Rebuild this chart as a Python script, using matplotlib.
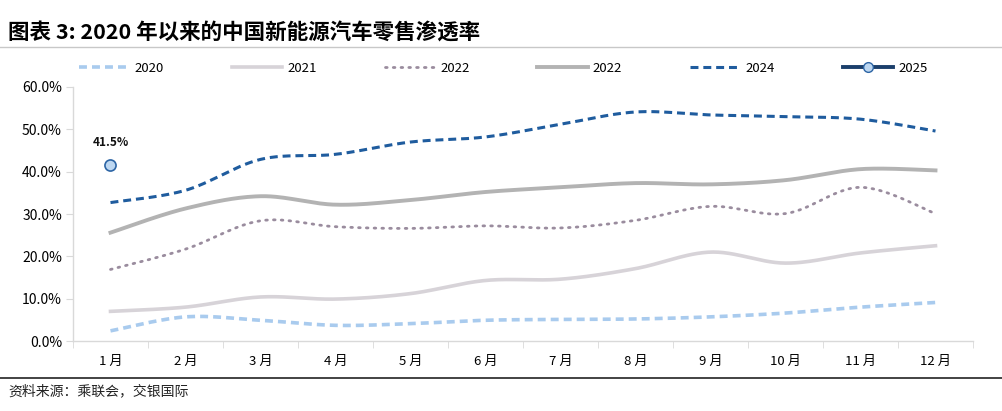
import numpy as np
import matplotlib
matplotlib.use('Agg')
import matplotlib.pyplot as plt
from matplotlib.lines import Line2D

plt.rcParams['font.family'] = ['Noto Sans CJK SC', 'DejaVu Sans']

months = ['1 月', '2 月', '3 月', '4 月', '5 月', '6 月', '7 月', '8 月', '9 月', '10 月', '11 月', '12 月']
y2020 = [2.4, 5.7, 4.9, 3.7, 4.1, 4.9, 5.1, 5.2, 5.7, 6.6, 8.0, 9.1]
y2021 = [7.0, 8.0, 10.4, 9.9, 11.2, 14.3, 14.6, 17.1, 21.0, 18.4, 20.8, 22.5]
y2022 = [16.9, 21.7, 28.4, 27.0, 26.6, 27.2, 26.7, 28.5, 31.8, 30.1, 36.3, 30.1]
y2023 = [25.6, 31.3, 34.2, 32.2, 33.3, 35.2, 36.3, 37.3, 37.0, 38.0, 40.6, 40.3]
y2024 = [32.7, 35.6, 42.9, 44.1, 47.0, 48.2, 51.2, 54.1, 53.4, 53.0, 52.4, 49.6]
y2025 = [41.5]
legend_labels = ['2020', '2021', '2022', '2022', '2024', '2025']


def smooth(y, n=30):
    # Excel-style smoothed line (Catmull-Rom through the points)
    y = np.asarray(y, dtype=float)
    x = np.arange(len(y), dtype=float)
    if len(y) < 3:
        return x, y
    px = np.concatenate([[x[0]], x, [x[-1]]])
    py = np.concatenate([[y[0]], y, [y[-1]]])
    xs, ys = [], []
    t = np.linspace(0, 1, n)
    for i in range(1, len(px) - 2):
        p0, p1, p2, p3 = px[i-1], px[i], px[i+1], px[i+2]
        q0, q1, q2, q3 = py[i-1], py[i], py[i+1], py[i+2]
        c1x, c1y = p1 + (p2 - p0) / 6, q1 + (q2 - q0) / 6
        c2x, c2y = p2 - (p3 - p1) / 6, q2 - (q3 - q1) / 6
        bx = (1-t)**3*p1 + 3*(1-t)**2*t*c1x + 3*(1-t)*t**2*c2x + t**3*p2
        by = (1-t)**3*q1 + 3*(1-t)**2*t*c1y + 3*(1-t)*t**2*c2y + t**3*q2
        xs.append(bx)
        ys.append(by)
    return np.concatenate(xs), np.concatenate(ys)


fig = plt.figure(figsize=(10.03, 4.11), dpi=100)
ax = fig.add_axes([73/1003, 70/411, 900/1003, 254/411])

styles = [
    (y2020, dict(color='#A9CBEE', lw=2.6, ls=(0, (2.2, 1.4)))),
    (y2021, dict(color='#D7D3D8', lw=2.6, ls='-')),
    (y2022, dict(color='#9A8C9E', lw=2.0, ls=(0, (0.6, 2.2)), dash_capstyle='round')),
    (y2023, dict(color='#B3B3B3', lw=2.8, ls='-')),
    (y2024, dict(color='#1F5C9E', lw=2.2, ls=(0, (2.6, 1.6)))),
]
for data, st in styles:
    sx, sy = smooth(data)
    ax.plot(sx, sy, **st)

ax.plot(range(len(y2025)), y2025, color='#1B3F6B', lw=2.8, marker='o', ms=8,
        markerfacecolor='#BDD7F1', markeredgecolor='#2D65A5', markeredgewidth=1.2, zorder=5)
ax.annotate(f'{y2025[0]:.1f}%', (0, y2025[0]), xytext=(0, 12), textcoords='offset points',
            ha='center', va='bottom', fontsize=8.5, fontweight='bold', color='#111111')

ax.set_xlim(-0.5, 11.5)
ax.set_ylim(0, 60)
ax.set_yticks(np.arange(0, 61, 10))
ax.set_yticklabels([f'{v:.1f}%' for v in np.arange(0, 61, 10)], fontsize=10)
ax.set_xticks(range(12))
ax.set_xticklabels(months, fontsize=9.5)
ax.set_xticks(np.arange(-0.5, 12, 1), minor=True)
ax.tick_params(axis='x', which='major', length=0, pad=10)
ax.tick_params(axis='x', which='minor', length=5, color='#D9D9D9', direction='out')
ax.tick_params(axis='y', length=5, color='#D9D9D9', direction='out', pad=3)
for side in ['top', 'right']:
    ax.spines[side].set_visible(False)
for side in ['left', 'bottom']:
    ax.spines[side].set_color('#D9D9D9')
    ax.spines[side].set_linewidth(1.0)

handles = [Line2D([], [], **st) for _, st in styles]
handles.append(Line2D([], [], color='#1B3F6B', lw=2.8, marker='o', ms=7,
                      markerfacecolor='#BDD7F1', markeredgecolor='#2D65A5'))
fig.legend(handles, legend_labels, loc='center', bbox_to_anchor=(0.502, 1 - 68/411),
           ncol=6, frameon=False, fontsize=9.5, handlelength=3.8, columnspacing=5.15,
           handletextpad=0.4)

fig.text(8/1003, 1 - 33/411, '图表 3: 2020 年以来的中国新能源汽车零售渗透率',
         fontsize=15.5, fontweight='bold', va='center', ha='left')
fig.add_artist(Line2D([0, 1], [1 - 47/411, 1 - 47/411], color='#C8C8C8', lw=1.0))
fig.add_artist(Line2D([0, 1], [1 - 378/411, 1 - 378/411], color='#222222', lw=1.2))
fig.text(8/1003, 1 - 391/411, '资料来源：乘联会，交银国际', fontsize=10, style='italic',
         va='center', ha='left', color='#222222')

fig.savefig('out.png', dpi=100)
